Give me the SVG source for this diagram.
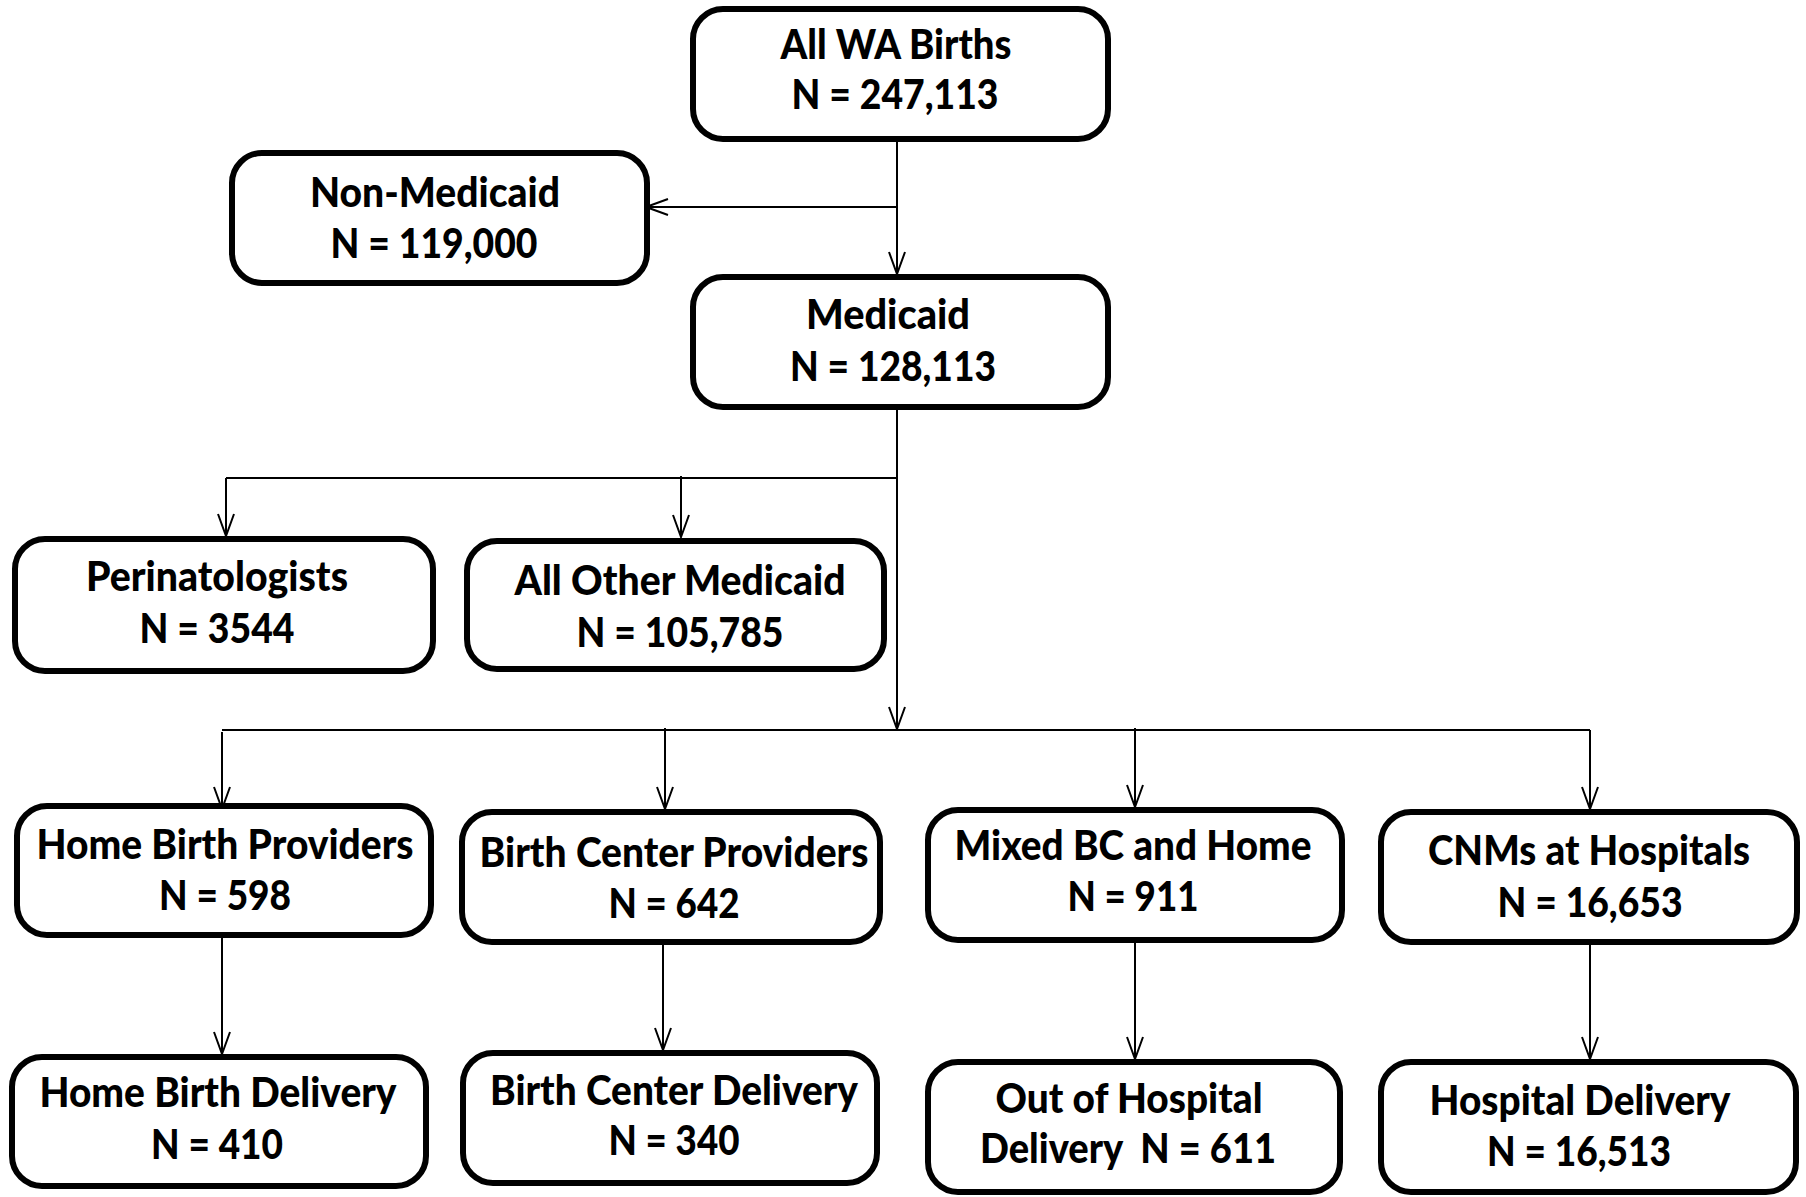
<svg xmlns="http://www.w3.org/2000/svg" width="1806" height="1197" viewBox="0 0 1806 1197">
<style>
.box{fill:#fff;stroke:#000;stroke-width:6}
.t{font-family:Lato,"Liberation Sans",sans-serif;font-weight:900;font-size:41px;text-anchor:middle;fill:#000}
.c{fill:none;stroke:#000;stroke-width:2}
</style>
<defs>
<marker id="ah" markerUnits="userSpaceOnUse" markerWidth="24" markerHeight="18" viewBox="0 0 24 18" refX="23" refY="9" orient="auto">
<path d="M1,1 L23,9 L1,17" fill="none" stroke="#000" stroke-width="2"/>
</marker>
</defs>
<rect width="1806" height="1197" fill="#fff"/>
<g id="connectors">
<path class="c" d="M897,140 V274" marker-end="url(#ah)"/>
<path class="c" d="M897,207 H646" marker-end="url(#ah)"/>
<path class="c" d="M897,408 V729" marker-end="url(#ah)"/>
<path class="c" d="M226,478 H897"/>
<path class="c" d="M226,478 V536" marker-end="url(#ah)"/>
<path class="c" d="M681,476 V537" marker-end="url(#ah)"/>
<path class="c" d="M222,730 H1590"/>
<path class="c" d="M222,732 V809" marker-end="url(#ah)"/>
<path class="c" d="M665,728 V809" marker-end="url(#ah)"/>
<path class="c" d="M1135,728 V807" marker-end="url(#ah)"/>
<path class="c" d="M1590,730 V809" marker-end="url(#ah)"/>
<path class="c" d="M222,935 V1054" marker-end="url(#ah)"/>
<path class="c" d="M663,942 V1050" marker-end="url(#ah)"/>
<path class="c" d="M1135,940 V1059" marker-end="url(#ah)"/>
<path class="c" d="M1590,942 V1059" marker-end="url(#ah)"/>
</g>
<g id="allwa"><rect class="box" x="693" y="9" width="415" height="130" rx="30"/>
<text class="t" x="896" y="59" textLength="231" lengthAdjust="spacingAndGlyphs">All WA Births</text>
<text class="t" x="895" y="109" textLength="207" lengthAdjust="spacingAndGlyphs">N = 247,113</text></g>
<g id="nonmedicaid"><rect class="box" x="232" y="153" width="415" height="130" rx="30"/>
<text class="t" x="435" y="207" textLength="250" lengthAdjust="spacingAndGlyphs">Non-Medicaid</text>
<text class="t" x="434" y="258" textLength="207" lengthAdjust="spacingAndGlyphs">N = 119,000</text></g>
<g id="medicaid"><rect class="box" x="693" y="277" width="415" height="130" rx="30"/>
<text class="t" x="888" y="329" textLength="164" lengthAdjust="spacingAndGlyphs">Medicaid</text>
<text class="t" x="893" y="381" textLength="206" lengthAdjust="spacingAndGlyphs">N = 128,113</text></g>
<g id="perinatologists"><rect class="box" x="15" y="539" width="418" height="132" rx="30"/>
<text class="t" x="217" y="591" textLength="262" lengthAdjust="spacingAndGlyphs">Perinatologists</text>
<text class="t" x="217" y="643" textLength="155" lengthAdjust="spacingAndGlyphs">N = 3544</text></g>
<g id="allother"><rect class="box" x="467" y="541" width="417" height="128" rx="30"/>
<text class="t" x="680" y="595" textLength="331" lengthAdjust="spacingAndGlyphs">All Other Medicaid</text>
<text class="t" x="680" y="647" textLength="207" lengthAdjust="spacingAndGlyphs">N = 105,785</text></g>
<g id="homebirthproviders"><rect class="box" x="17" y="806" width="414" height="129" rx="30"/>
<text class="t" x="225" y="859" textLength="377" lengthAdjust="spacingAndGlyphs">Home Birth Providers</text>
<text class="t" x="225" y="910" textLength="132" lengthAdjust="spacingAndGlyphs">N = 598</text></g>
<g id="birthcenterproviders"><rect class="box" x="462" y="812" width="418" height="130" rx="30"/>
<text class="t" x="674" y="867" textLength="389" lengthAdjust="spacingAndGlyphs">Birth Center Providers</text>
<text class="t" x="674" y="918" textLength="131" lengthAdjust="spacingAndGlyphs">N = 642</text></g>
<g id="mixed"><rect class="box" x="928" y="810" width="414" height="130" rx="30"/>
<text class="t" x="1133" y="860" textLength="357" lengthAdjust="spacingAndGlyphs">Mixed BC and Home</text>
<text class="t" x="1133" y="911" textLength="131" lengthAdjust="spacingAndGlyphs">N = 911</text></g>
<g id="cnms"><rect class="box" x="1381" y="812" width="416" height="130" rx="30"/>
<text class="t" x="1589" y="865" textLength="322" lengthAdjust="spacingAndGlyphs">CNMs at Hospitals</text>
<text class="t" x="1590" y="917" textLength="185" lengthAdjust="spacingAndGlyphs">N = 16,653</text></g>
<g id="homebirthdelivery"><rect class="box" x="12" y="1057" width="414" height="129" rx="30"/>
<text class="t" x="218" y="1107" textLength="357" lengthAdjust="spacingAndGlyphs">Home Birth Delivery</text>
<text class="t" x="217" y="1159" textLength="132" lengthAdjust="spacingAndGlyphs">N = 410</text></g>
<g id="birthcenterdelivery"><rect class="box" x="463" y="1053" width="414" height="130" rx="30"/>
<text class="t" x="674" y="1105" textLength="368" lengthAdjust="spacingAndGlyphs">Birth Center Delivery</text>
<text class="t" x="674" y="1155" textLength="131" lengthAdjust="spacingAndGlyphs">N = 340</text></g>
<g id="outofhospital"><rect class="box" x="928" y="1062" width="412" height="130" rx="30"/>
<text class="t" x="1129" y="1113" textLength="267" lengthAdjust="spacingAndGlyphs">Out of Hospital</text>
<text class="t" x="1128" y="1163" textLength="296" lengthAdjust="spacingAndGlyphs" xml:space="preserve">Delivery  N = 611</text></g>
<g id="hospitaldelivery"><rect class="box" x="1381" y="1062" width="415" height="130" rx="30"/>
<text class="t" x="1580" y="1115" textLength="301" lengthAdjust="spacingAndGlyphs">Hospital Delivery</text>
<text class="t" x="1579" y="1166" textLength="184" lengthAdjust="spacingAndGlyphs">N = 16,513</text></g>
</svg>
